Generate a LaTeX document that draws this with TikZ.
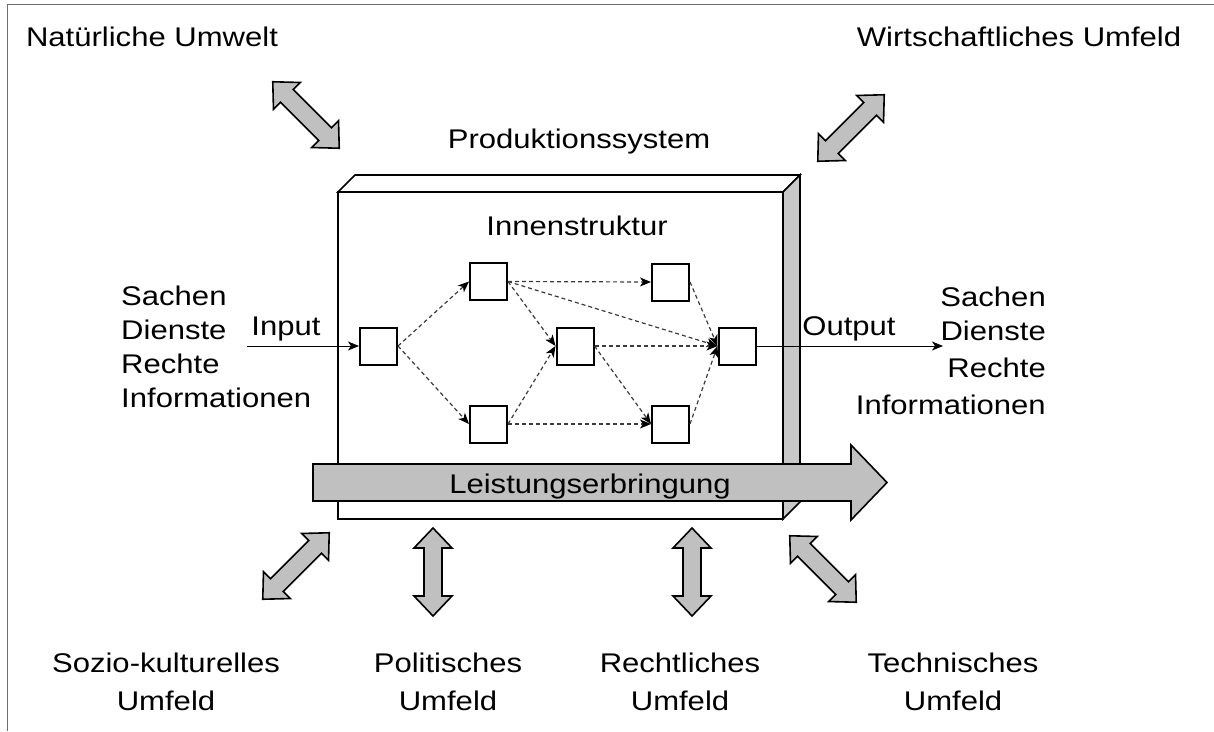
\documentclass[tikz,border=0pt]{standalone}
\usepackage{fontspec}
\setmainfont{Liberation Sans}
\usetikzlibrary{arrows.meta}
\definecolor{arrowgray}{RGB}{192,192,192}
\definecolor{sidegray}{RGB}{200,200,200}
\definecolor{framegray}{RGB}{110,110,110}
\definecolor{dashgray}{RGB}{60,60,60}
\newcommand\dblarr[3]{%
  \begin{scope}[shift={#1},rotate=#2]
    \pgfmathsetmacro\hl{#3/2}\pgfmathsetmacro\sl{#3/2-20}
    \path[block] (-\hl,0) -- (-\sl,19) -- (-\sl,9) -- (\sl,9) -- (\sl,19) -- (\hl,0)
      -- (\sl,-19) -- (\sl,-9) -- (-\sl,-9) -- (-\sl,-19) -- cycle;
  \end{scope}}
\begin{document}
\begin{tikzpicture}[x=1pt,y=-1pt,
  lbl/.style={inner sep=0pt, font=\fontsize{27}{32}\selectfont, xscale=1.15},
  stepbox/.style={draw, line width=2pt, minimum size=37pt, inner sep=0pt, fill=white},
  flow/.style={draw=dashgray, dash pattern=on 4pt off 3pt, line width=1.2pt,
    -{Stealth[length=11pt,width=9pt,inset=3pt,black]}},
  io/.style={line width=1pt, -{Stealth[length=11pt,width=9pt,inset=3pt]}},
  block/.style={draw, line width=1.6pt, fill=arrowgray, line join=miter},
  face/.style={draw, line width=1.6pt, line join=miter}]
\useasboundingbox (0,0) rectangle (1214,731);
% frame
\draw[framegray, line width=1pt] (7,731) -- (7,4) -- (1214,4);
% 3D box
\path[face, fill=white] (338,192) -- (355,175) -- (800,175) -- (783,192) -- cycle;
\path[face, fill=sidegray] (783,192) -- (800,175) -- (800,502) -- (783,519) -- cycle;
\path[face, fill=white] (338,192) rectangle (783,519);
% inner structure
\node[stepbox] (A) at (378.5,346) {};
\node[stepbox] (B) at (488.5,281.5) {};
\node[stepbox] (C) at (488.5,424) {};
\node[stepbox] (D) at (575,346) {};
\node[stepbox] (E) at (670.5,282) {};
\node[stepbox] (F) at (670.5,424) {};
\node[stepbox] (G) at (737,346) {};
\draw[flow] (A.east) -- (B.west);
\draw[flow] (A.east) -- (C.west);
\draw[flow] (B.east) -- (E.west);
\draw[flow] (B.east) -- (D.west);
\draw[flow] (B.east) -- (G.west);
\draw[flow] (C.east) -- (D.west);
\draw[flow] (C.east) -- (F.west);
\draw[flow] (D.east) -- (G.west);
\draw[flow] (D.east) -- (F.west);
\draw[flow] (E.east) -- (G.west);
\draw[flow] (F.east) -- (G.west);
\coordinate (inL) at (247,346);
\coordinate (outR) at (943,346);
\draw[io] (inL) -- (A.west);
\draw[io] (G.east) -- (outR);
% Leistungserbringung arrow
\path[block] (313,464) -- (851,464) -- (851,445) -- (887,482.5) -- (851,520) -- (851,501) -- (313,501) -- cycle;
\node[lbl, anchor=base] (leist) at (590,493) {Leistungserbringung};
% environment arrows
\dblarr{(306,115)}{-45}{94}
\dblarr{(851,128)}{45}{94}
\dblarr{(296,566)}{45}{94}
\dblarr{(433,572)}{90}{88}
\dblarr{(692,572)}{90}{88}
\dblarr{(823,569)}{-45}{94}
% labels
\node[lbl, anchor=base] (natur) at (152,46) {Natürliche Umwelt};
\node[lbl, anchor=base] (wirt) at (1019,46) {Wirtschaftliches Umfeld};
\node[lbl, anchor=base] (prod) at (579,148) {Produktionssystem};
\node[lbl, anchor=base] (innen) at (577,235) {Innenstruktur};
\node[lbl, anchor=base] (input) at (286,335) {Input};
\node[lbl, anchor=base] (output) at (849,335) {Output};
\node[lbl, anchor=base west] (ls) at (121,305) {Sachen};
\node[lbl, anchor=base west] (ld) at (121,339) {Dienste};
\node[lbl, anchor=base west] (lr) at (121,373) {Rechte};
\node[lbl, anchor=base west] (li) at (121,407) {Informationen};
\node[lbl, anchor=base east] (rs) at (1046,306) {Sachen};
\node[lbl, anchor=base east] (rd) at (1046,340) {Dienste};
\node[lbl, anchor=base east] (rr) at (1046,377) {Rechte};
\node[lbl, anchor=base east] (ri) at (1046,414) {Informationen};
\node[lbl, anchor=base] (sozio1) at (166,672) {Sozio-kulturelles};
\node[lbl, anchor=base] (sozio2) at (166,710) {Umfeld};
\node[lbl, anchor=base] (pol1) at (448,672) {Politisches};
\node[lbl, anchor=base] (pol2) at (448,710) {Umfeld};
\node[lbl, anchor=base] (recht1) at (680,672) {Rechtliches};
\node[lbl, anchor=base] (recht2) at (680,710) {Umfeld};
\node[lbl, anchor=base] (tech1) at (953,672) {Technisches};
\node[lbl, anchor=base] (tech2) at (953,710) {Umfeld};
\end{tikzpicture}
\end{document}
